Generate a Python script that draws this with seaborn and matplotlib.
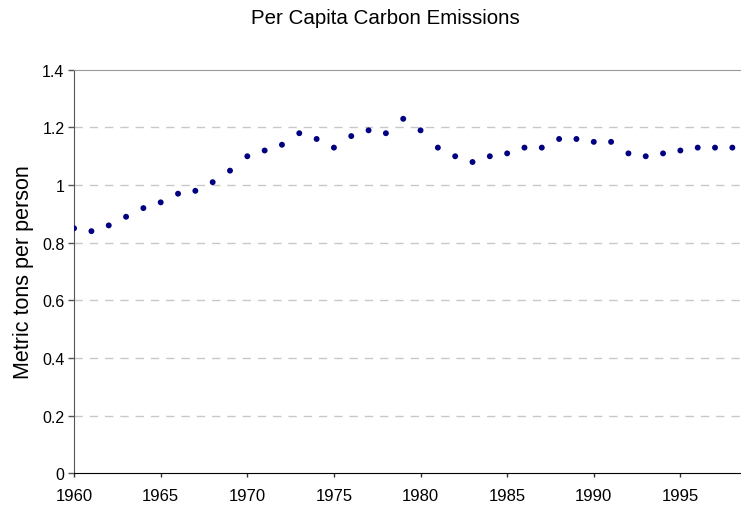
import numpy as np
import pandas as pd
import matplotlib
matplotlib.use("Agg")
import matplotlib.pyplot as plt
import seaborn as sns

years = list(range(1960, 1999))
emissions = [0.85, 0.84, 0.86, 0.89, 0.92, 0.94, 0.97, 0.98, 1.01, 1.05,
             1.10, 1.12, 1.14, 1.18, 1.16, 1.13, 1.17, 1.19, 1.18, 1.23,
             1.19, 1.13, 1.10, 1.08, 1.10, 1.11, 1.13, 1.13, 1.16, 1.16,
             1.15, 1.15, 1.11, 1.10, 1.11, 1.12, 1.13, 1.13, 1.13]
xticks = [1960, 1965, 1970, 1975, 1980, 1985, 1990, 1995]
yticks = [0, 0.2, 0.4, 0.6, 0.8, 1, 1.2, 1.4]
ytick_labels = ['0', '0.2', '0.4', '0.6', '0.8', '1', '1.2', '1.4']

df = pd.DataFrame({'Year': years, 'Emissions': emissions})

sns.set_style("white")
plt.rcParams['font.family'] = ['Liberation Sans', 'DejaVu Sans']
plt.rcParams['text.color'] = 'black'
plt.rcParams['axes.labelcolor'] = 'black'
plt.rcParams['xtick.color'] = 'black'
plt.rcParams['ytick.color'] = 'black'

fig = plt.figure(figsize=(7.41, 5.06), dpi=100)
ax = fig.add_axes([0.1, 0.063, 0.9, 0.797])

sns.scatterplot(data=df, x='Year', y='Emissions', ax=ax, color='#000080',
                s=18, edgecolor='none', zorder=3)

ax.set_xlim(1960, 1998.5)
ax.set_ylim(0, 1.4)
ax.set_xticks(xticks)
ax.set_xticklabels([str(t) for t in xticks], fontsize=12)
ax.set_yticks(yticks)
ax.set_yticklabels(ytick_labels, fontsize=11.5)
ax.tick_params(axis='x', direction='out', length=3, width=1, color='#333333',
               labelcolor='black', bottom=True, pad=7.4)
ax.tick_params(axis='y', direction='out', length=4, width=1, color='#555555',
               labelcolor='black', left=True, pad=3)

for y in yticks[1:-1]:
    ax.axhline(y, color='#c8c8c8', linestyle=(0, (6, 5)), linewidth=1, zorder=1)

ax.spines['top'].set_color('#999999')
ax.spines['left'].set_color('#555555')
ax.spines['bottom'].set_color('#000000')
ax.spines['right'].set_visible(False)

ax.set_xlabel('')
ax.set_ylabel('Metric tons per person', fontsize=15.5, labelpad=6, color='black')
fig.text(0.52, 0.964, 'Per Capita Carbon Emissions', fontsize=14.8,
         ha='center', va='center', color='black')

fig.savefig('out.png', dpi=100)
